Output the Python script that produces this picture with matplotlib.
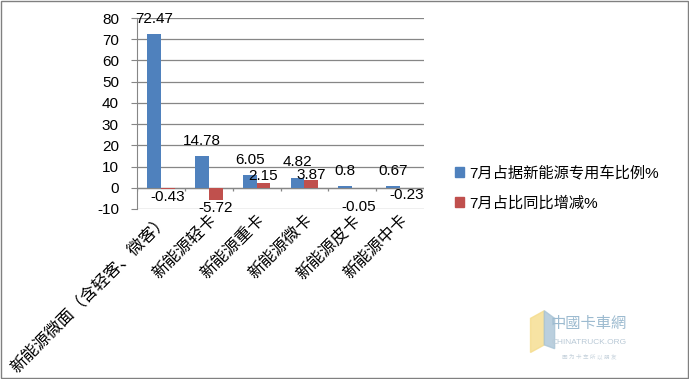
import matplotlib.pyplot as plt
import matplotlib.patches as mpatches
import numpy as np

plt.rcParams['font.family'] = ['Liberation Sans', 'Noto Sans CJK SC']
plt.rcParams['axes.unicode_minus'] = False

# 数据
categories = ["新能源微面（含轻客、微客）", "新能源轻卡", "新能源重卡", "新能源微卡", "新能源皮卡", "新能源中卡"]
share = [72.47, 14.78, 6.05, 4.82, 0.8, 0.67]
change = [-0.43, -5.72, 2.15, 3.87, -0.05, -0.23]
series_names = ["7月占据新能源专用车比例%", "7月占比同比增减%"]
yticks = [-10, 0, 10, 20, 30, 40, 50, 60, 70, 80]

blue = "#4F81BD"
red = "#C0504D"
grid = "#868686"

fig = plt.figure(figsize=(6.89, 3.79), dpi=100, facecolor="white")
ax = fig.add_axes([137/689, 1 - 209/379, 287/689, 191/379])

x = np.arange(len(categories))
w = 0.29
b1 = ax.bar(x - w/2, share, width=w, color=blue, label=series_names[0], zorder=3)
b2 = ax.bar(x + w/2, change, width=w, color=red, label=series_names[1], zorder=3)

# 数据标签 (蓝色在柱顶上方, 红色紧贴柱端)
for barra in b1:
    v = barra.get_height()
    ax.annotate(f"{v:g}", (barra.get_x() + barra.get_width()/2, v), xytext=(0, 6),
                textcoords="offset points", ha="center", va="bottom", fontsize=11, zorder=5)

red_nudge = [-1, -1, 0, -2, -9, 0]  # 标签微调 (pt)
for barra, dy in zip(b2, red_nudge):
    v = barra.get_height()
    ax.annotate(f"{v:g}", (barra.get_x() + barra.get_width()/2, v), xytext=(0, dy),
                textcoords="offset points", ha="center",
                va="bottom" if v >= 0 else "top", fontsize=11, zorder=5)

ax.set_xlim(-0.5, len(categories) - 0.5)
ax.set_ylim(-10, 80)
ax.set_yticks(yticks)
ax.yaxis.grid(True, color=grid, linewidth=0.9, zorder=0)
ax.axhline(0, color=grid, linewidth=0.9, zorder=2)
# 类别分隔刻度
ax.vlines(np.arange(len(categories) + 1) - 0.5, 0, -1.3, color=grid, linewidth=0.9, zorder=2)

ax.set_xticks(x)
ax.set_xticklabels(categories, rotation=45, ha="right", rotation_mode="anchor", fontsize=12)
ax.tick_params(axis="x", length=0, pad=2)
ax.tick_params(axis="y", length=4, color=grid, labelsize=11, pad=9)

for s in ["top", "right", "bottom"]:
    ax.spines[s].set_visible(False)
ax.spines["left"].set_color(grid)
ax.set_facecolor("none")

fig.legend(handles=[mpatches.Patch(color=blue), mpatches.Patch(color=red)], labels=series_names,
           loc="center left", bbox_to_anchor=(441/689, 1 - 188/379), frameon=False,
           fontsize=11, handlelength=0.6, handleheight=0.6, handletextpad=0.35,
           labelspacing=1.0)

# 水印
fig.text(0.855, 0.145, "中國卡車網", color="#9dbbd0", fontsize=11, ha="center", va="center")
fig.text(0.855, 0.095, "CHINATRUCK.ORG", color="#b9c9d6", fontsize=6, ha="center", va="center")
fig.text(0.855, 0.06, "因 为 卡 车 所 以 朋 友", color="#c6d2dc", fontsize=4, ha="center", va="center")
fig.patches.append(mpatches.Polygon([[0.77, 0.16], [0.79, 0.18], [0.79, 0.09], [0.77, 0.07]],
                                    closed=True, transform=fig.transFigure, color="#f5dc8c", alpha=0.8))
fig.patches.append(mpatches.Polygon([[0.79, 0.18], [0.805, 0.16], [0.805, 0.08], [0.79, 0.09]],
                                    closed=True, transform=fig.transFigure, color="#a9c4d6", alpha=0.8))

# 外框
fig.patches.append(mpatches.Rectangle((0.002, 0.003), 0.996, 0.994, transform=fig.transFigure,
                                      fill=False, edgecolor="#808080", linewidth=1))

plt.savefig("out.png", dpi=100)
